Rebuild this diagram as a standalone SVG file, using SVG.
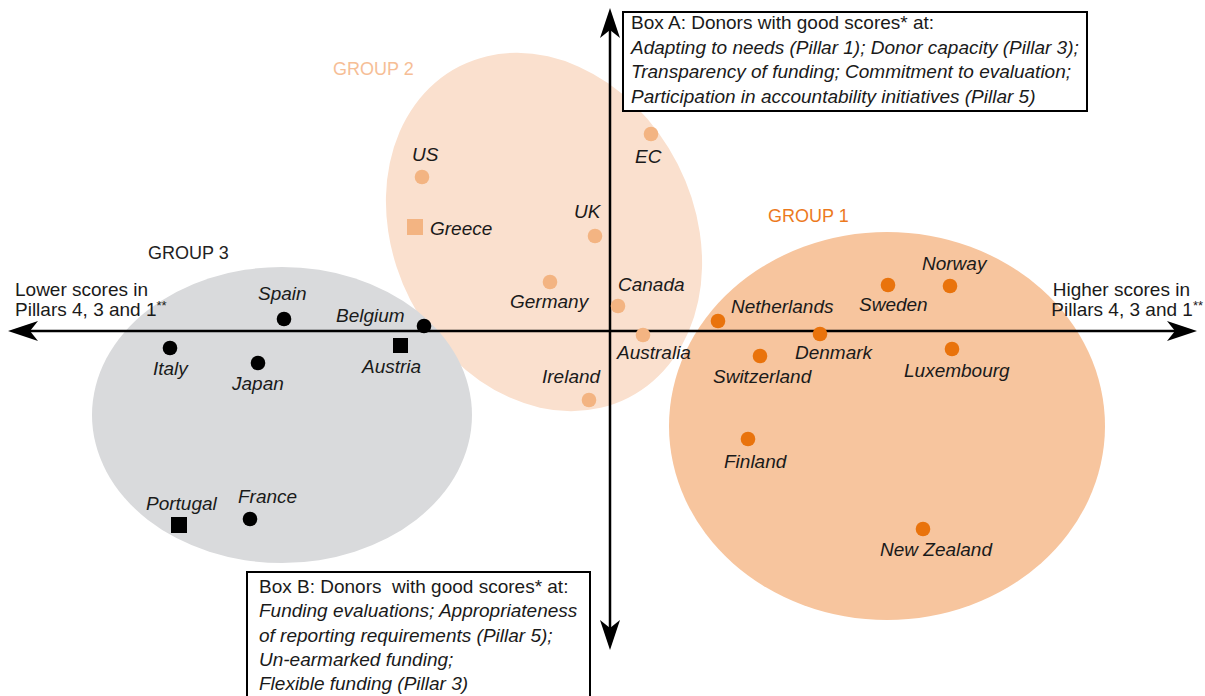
<svg xmlns="http://www.w3.org/2000/svg" width="1205" height="696" viewBox="0 0 1205 696">
<style>
text{font-family:"Liberation Sans",Arial,sans-serif;fill:#1a1a1a}
.lbl{font-size:19px;font-style:italic}
.ax{font-size:19px}
.grp{font-size:18px}
.bx{font-size:19px;white-space:pre}
.bxi{font-size:19px;font-style:italic}
.g1d{fill:#E9730C}
.g2d{fill:#F3B482}
.g3d{fill:#000}
.axis{stroke:#000;stroke-width:2.5;fill:none}
.box{fill:#fff;stroke:#000;stroke-width:2}
</style>
<defs>
<marker id="arr" viewBox="0 0 30 20" refX="24" refY="10" markerWidth="30" markerHeight="20" markerUnits="userSpaceOnUse" orient="auto-start-reverse">
<path d="M0,0 L30,10 L0,20 L8,10 Z" fill="#000"/>
</marker>
</defs>
<g id="group2-area"><ellipse cx="544" cy="232" rx="150" ry="186" transform="rotate(-27 544 232)" fill="#FAE0CE"/></g>
<g id="group3-area"><ellipse cx="282" cy="415" rx="190" ry="148" fill="#D9DADC"/></g>
<g id="group1-area"><ellipse cx="887" cy="426" rx="218" ry="194" fill="#F7C59E"/></g>
<g id="connectors">
<line class="axis" x1="14" y1="331" x2="1191" y2="331" marker-start="url(#arr)" marker-end="url(#arr)"/>
<line class="axis" x1="610" y1="14" x2="610" y2="644" marker-start="url(#arr)" marker-end="url(#arr)"/>
</g>
<g id="axis-labels">
<text class="ax" x="15" y="296">Lower scores in</text>
<text class="ax" x="15" y="316">Pillars 4, 3 and 1<tspan font-size="13" dy="-6">**</tspan></text>
<text class="ax" x="1190" y="296" text-anchor="end">Higher scores in</text>
<text class="ax" x="1203" y="316" text-anchor="end">Pillars 4, 3 and 1<tspan font-size="13" dy="-6">**</tspan></text>
</g>
<g id="group-labels">
<text class="grp" x="333" y="75" style="fill:#F6BE96">GROUP 2</text>
<text class="grp" x="768" y="222" style="fill:#EC7A1E">GROUP 1</text>
<text class="grp" x="148" y="259" style="fill:#222">GROUP 3</text>
</g>
<g id="boxA">
<rect class="box" x="623" y="12" width="464" height="99"/>
<text class="bx" x="631" y="29">Box A: Donors with good scores* at:</text>
<text class="bxi" x="631" y="54">Adapting to needs (Pillar 1); Donor capacity (Pillar 3);</text>
<text class="bxi" x="631" y="78">Transparency of funding; Commitment to evaluation;</text>
<text class="bxi" x="631" y="103">Participation in accountability initiatives (Pillar 5)</text>
</g>
<g id="boxB">
<rect class="box" x="247" y="572" width="343" height="130"/>
<text class="bx" x="259" y="593" xml:space="preserve">Box B: Donors  with good scores* at:</text>
<text class="bxi" x="259" y="617">Funding evaluations; Appropriateness</text>
<text class="bxi" x="259" y="642">of reporting requirements (Pillar 5);</text>
<text class="bxi" x="259" y="666">Un-earmarked funding;</text>
<text class="bxi" x="259" y="690">Flexible funding (Pillar 3)</text>
</g>
<g id="US"><circle class="g2d" cx="422" cy="177" r="7.3"/><text class="lbl" x="412" y="161">US</text></g>
<g id="Greece"><rect class="g2d" x="407" y="219" width="16" height="16"/><text class="lbl" x="430" y="235">Greece</text></g>
<g id="UK"><circle class="g2d" cx="595" cy="236" r="7.3"/><text class="lbl" x="574" y="218">UK</text></g>
<g id="EC"><circle class="g2d" cx="651" cy="134" r="7.3"/><text class="lbl" x="635" y="163">EC</text></g>
<g id="Germany"><circle class="g2d" cx="550" cy="282" r="7.3"/><text class="lbl" x="510" y="308">Germany</text></g>
<g id="Canada"><circle class="g2d" cx="618" cy="306" r="7.3"/><text class="lbl" x="618" y="291">Canada</text></g>
<g id="Australia"><circle class="g2d" cx="643" cy="335" r="7.3"/><text class="lbl" x="617" y="359">Australia</text></g>
<g id="Ireland"><circle class="g2d" cx="589" cy="400" r="7.3"/><text class="lbl" x="542" y="383">Ireland</text></g>
<g id="Netherlands"><circle class="g1d" cx="718" cy="321" r="7.3"/><text class="lbl" x="731" y="313">Netherlands</text></g>
<g id="Sweden"><circle class="g1d" cx="888" cy="285" r="7.3"/><text class="lbl" x="859" y="311">Sweden</text></g>
<g id="Norway"><circle class="g1d" cx="950" cy="286" r="7.3"/><text class="lbl" x="922" y="270">Norway</text></g>
<g id="Denmark"><circle class="g1d" cx="820" cy="334" r="7.3"/><text class="lbl" x="795" y="359">Denmark</text></g>
<g id="Switzerland"><circle class="g1d" cx="760" cy="356" r="7.3"/><text class="lbl" x="713" y="383">Switzerland</text></g>
<g id="Luxembourg"><circle class="g1d" cx="952" cy="349" r="7.3"/><text class="lbl" x="904" y="377">Luxembourg</text></g>
<g id="Finland"><circle class="g1d" cx="748" cy="439" r="7.3"/><text class="lbl" x="724" y="468">Finland</text></g>
<g id="NewZealand"><circle class="g1d" cx="923" cy="529" r="7.3"/><text class="lbl" x="880" y="556">New Zealand</text></g>
<g id="Spain"><circle class="g3d" cx="284" cy="319" r="7.3"/><text class="lbl" x="258" y="300">Spain</text></g>
<g id="Belgium"><circle class="g3d" cx="424" cy="326" r="7.3"/><text class="lbl" x="336" y="322">Belgium</text></g>
<g id="Italy"><circle class="g3d" cx="170" cy="348" r="7.3"/><text class="lbl" x="153" y="375">Italy</text></g>
<g id="Japan"><circle class="g3d" cx="258" cy="363" r="7.3"/><text class="lbl" x="232" y="390">Japan</text></g>
<g id="Austria"><rect class="g3d" x="393" y="338" width="15" height="15"/><text class="lbl" x="362" y="373">Austria</text></g>
<g id="Portugal"><rect class="g3d" x="171" y="517" width="16" height="16"/><text class="lbl" x="146" y="510">Portugal</text></g>
<g id="France"><circle class="g3d" cx="250" cy="519" r="7.3"/><text class="lbl" x="238" y="503">France</text></g>
</svg>
